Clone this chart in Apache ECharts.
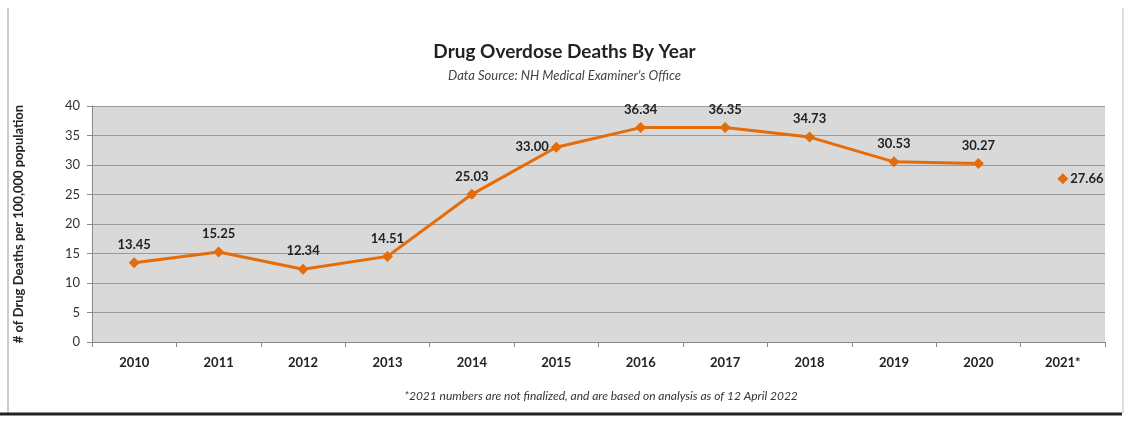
<!DOCTYPE html>
<html><head><meta charset="utf-8">
<script src="https://cdn.jsdelivr.net/npm/echarts@6/dist/echarts.min.js"></script>
<style>html,body{margin:0;padding:0;background:#fff}#c{width:1129px;height:435px}</style>
</head><body><div id="c"></div>
<script>
const categories = ['2010','2011','2012','2013','2014','2015','2016','2017','2018','2019','2020','2021*'];
const mainValues = [13.45,15.25,12.34,14.51,25.03,33.00,36.34,36.35,34.73,30.53,30.27,null];
const prelimValues = [null,null,null,null,null,null,null,null,null,null,null,27.66];
const yTicks = {min:0,max:40,interval:5};

const chart = echarts.init(document.getElementById('c'));
const orange = '#e46c0a';
const font = 'Lato, "Open Sans", sans-serif';
chart.setOption({
  animation:false,
  backgroundColor:'#fff',
  title:[
    {text:'Drug Overdose Deaths By Year',left:'center',top:37,textStyle:{fontFamily:font,fontSize:19,fontWeight:'bold',color:'#222'},
     subtext:'Data Source: NH Medical Examiner\'s Office',itemGap:8,subtextStyle:{fontFamily:font,fontSize:13,fontStyle:'italic',color:'#444'}},
    {text:'*2021 numbers are not finalized, and are based on analysis as of 12 April 2022',left:596,textAlign:'center',top:385,textStyle:{fontFamily:font,fontSize:12,fontStyle:'italic',fontWeight:'normal',color:'#333'}}
  ],
  grid:{left:92,right:24,top:106,bottom:93,show:true,backgroundColor:'#d9d9d9',borderWidth:0},
  xAxis:{type:'category',data:categories,boundaryGap:true,
    axisLine:{lineStyle:{color:'#888'}},
    axisTick:{show:true,interval:0,length:5,lineStyle:{color:'#888'}},
    axisLabel:{interval:0,margin:14,fontFamily:font,fontSize:13,fontWeight:'bold',color:'#222'}},
  yAxis:{type:'value',min:yTicks.min,max:yTicks.max,interval:yTicks.interval,
    name:'# of Drug Deaths per 100,000 population',nameLocation:'middle',nameGap:67,nameRotate:90,
    nameTextStyle:{fontFamily:font,fontSize:13,fontWeight:'bold',color:'#222'},
    axisLine:{show:true,lineStyle:{color:'#888'}},
    axisTick:{show:true,length:5,lineStyle:{color:'#888'}},
    axisLabel:{margin:12,fontFamily:font,fontSize:13,color:'#333'},
    splitLine:{lineStyle:{color:'#9a9a9a',width:1}}},
  series:[
    {type:'line',symbol:'diamond',symbolSize:11,
     lineStyle:{color:orange,width:3},itemStyle:{color:orange},
     label:{show:true,position:'top',distance:6,formatter:p=>p.value.toFixed(2),fontFamily:font,fontSize:13,fontWeight:'bold',color:'#222'},
     data:mainValues.map((v,i)=> i===5 ? {value:v,label:{position:'left',distance:2}} : v)},
    {type:'line',data:prelimValues,symbol:'diamond',symbolSize:11,
     lineStyle:{color:orange,width:3},itemStyle:{color:orange},
     label:{show:true,position:'right',distance:2,formatter:p=>p.value.toFixed(2),fontFamily:font,fontSize:13,fontWeight:'bold',color:'#222'}}
  ],
  graphic:[
    {type:'line',shape:{x1:8,y1:8,x2:8,y2:413},style:{stroke:'#999',lineWidth:1}},
    {type:'line',shape:{x1:1123,y1:8,x2:1123,y2:413},style:{stroke:'#bbb',lineWidth:1}},
    {type:'line',shape:{x1:0,y1:414,x2:1122,y2:414},style:{stroke:'#222',lineWidth:3}}
  ]
});
</script></body></html>
